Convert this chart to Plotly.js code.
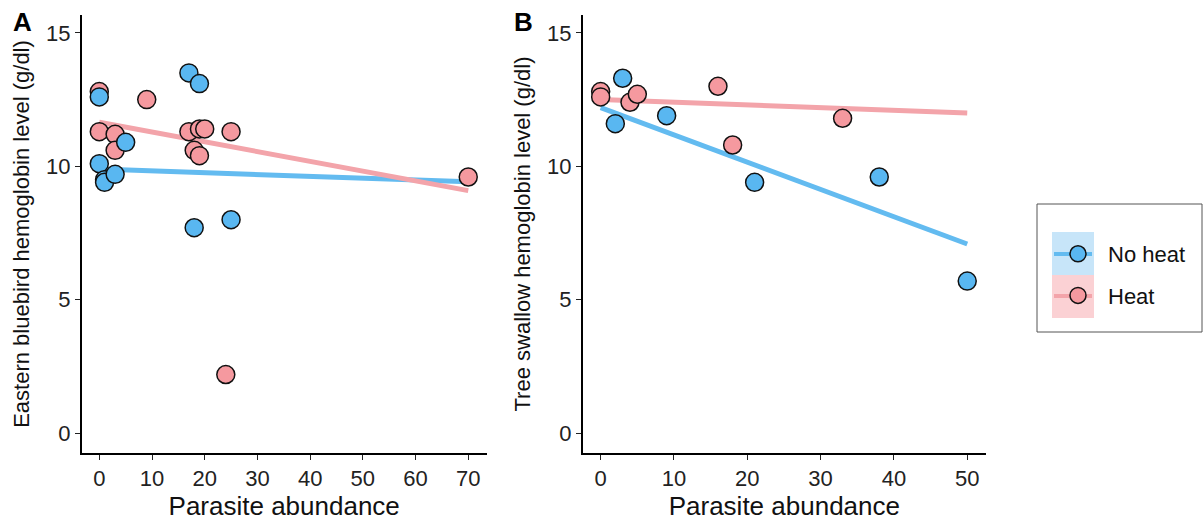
<!DOCTYPE html>
<html>
<head>
<meta charset="utf-8">
<script src="https://cdn.plot.ly/plotly-3.0.1.min.js"></script>
<style>html,body{margin:0;padding:0;background:#fff;}#chart{width:1204px;height:525px;}</style>
</head>
<body>
<div id="chart"></div>
<script>
// ---- Panel A: Eastern bluebird ----
const bluebirdNoHeatX = [0, 0, 1, 1, 3, 5, 17, 19, 18, 25];
const bluebirdNoHeatY = [12.6, 10.1, 9.5, 9.4, 9.7, 10.9, 13.5, 13.1, 7.7, 8.0];
const bluebirdHeatX = [0, 9, 0, 3, 3, 17, 19, 20, 25, 18, 19, 24, 70];
const bluebirdHeatY = [12.8, 12.5, 11.3, 11.2, 10.6, 11.3, 11.4, 11.4, 11.3, 10.6, 10.4, 2.2, 9.6];
const bluebirdFitX = [0, 70];
const bluebirdFitNoHeat = [9.9, 9.42];
const bluebirdFitHeat = [11.65, 9.09];

// ---- Panel B: Tree swallow ----
const swallowNoHeatX = [3, 2, 9, 21, 38, 50];
const swallowNoHeatY = [13.3, 11.6, 11.9, 9.4, 9.6, 5.7];
const swallowHeatX = [0, 0, 4, 5, 16, 18, 33];
const swallowHeatY = [12.8, 12.6, 12.4, 12.7, 13.0, 10.8, 11.8];
const swallowFitX = [0, 50];
const swallowFitNoHeat = [12.2, 7.09];
const swallowFitHeat = [12.5, 12.0];

const groupNames = ["No heat", "Heat"];
const yTicks = [0, 5, 10, 15];
const xTicksA = [0, 10, 20, 30, 40, 50, 60, 70];
const xTicksB = [0, 10, 20, 30, 40, 50];

const BLUE = "#59B7F1", PINK = "#F5999F";
const BLUE_LINE = "#63BBF0", PINK_LINE = "#F3A4AA";
const FONT = "Liberation Sans, Arial, sans-serif";
const W = 1204, H = 525;
const px = v => v / W, py = v => 1 - v / H;

function pts(x, y, color, xa, ya, name, show) {
  return {type: "scatter", mode: "markers", x: x, y: y, xaxis: xa, yaxis: ya,
    name: name, legendgroup: name, showlegend: show, legendrank: name === "No heat" ? 1 : 2,
    marker: {size: 18, color: color, line: {color: "#111", width: 1.5}},
    hoverinfo: "x+y"};
}
function fit(x, y, color, xa, ya, name) {
  return {type: "scatter", mode: "lines", x: x, y: y, xaxis: xa, yaxis: ya,
    name: name, legendgroup: name, showlegend: false,
    line: {color: color, width: 5}, hoverinfo: "skip"};
}

const data = [
  fit(bluebirdFitX, bluebirdFitNoHeat, BLUE_LINE, "x", "y", groupNames[0]),
  fit(bluebirdFitX, bluebirdFitHeat, PINK_LINE, "x", "y", groupNames[1]),
  fit(swallowFitX, swallowFitNoHeat, BLUE_LINE, "x2", "y2", groupNames[0]),
  fit(swallowFitX, swallowFitHeat, PINK_LINE, "x2", "y2", groupNames[1]),
  pts(bluebirdHeatX, bluebirdHeatY, PINK, "x", "y", groupNames[1], true),
  pts(swallowHeatX, swallowHeatY, PINK, "x2", "y2", groupNames[1], false),
  pts(bluebirdNoHeatX, bluebirdNoHeatY, BLUE, "x", "y", groupNames[0], true),
  pts(swallowNoHeatX, swallowNoHeatY, BLUE, "x2", "y2", groupNames[0], false)
];

const axisCommon = {
  showgrid: false, zeroline: false, showline: true, linecolor: "#000", linewidth: 1.6,
  ticks: "outside", ticklen: 5, tickwidth: 1.3, tickcolor: "#222",
  tickfont: {family: FONT, size: 22, color: "#222"}, tickmode: "array"
};
const xTitle = {text: "Parasite abundance", font: {family: FONT, size: 26, color: "#111"}, standoff: 6};

const layout = {
  width: W, height: H, margin: {l: 0, r: 0, t: 0, b: 0},
  paper_bgcolor: "#fff", plot_bgcolor: "#fff",
  showlegend: true,
  xaxis: Object.assign({}, axisCommon, {domain: [px(81.7), px(486.7)], range: [-3.34, 73.5],
    tickvals: xTicksA, ticktext: xTicksA.map(String), title: xTitle, anchor: "y"}),
  yaxis: Object.assign({}, axisCommon, {domain: [py(453), py(15)], range: [-0.74, 15.67],
    tickvals: yTicks, ticktext: yTicks.map(String), anchor: "x",
    title: {text: "Eastern bluebird hemoglobin level (g/dl)", font: {family: FONT, size: 22, color: "#111"}, standoff: 10}}),
  xaxis2: Object.assign({}, axisCommon, {domain: [px(582.7), px(986)], range: [-2.45, 52.56],
    tickvals: xTicksB, ticktext: xTicksB.map(String), title: xTitle, anchor: "y2"}),
  yaxis2: Object.assign({}, axisCommon, {domain: [py(453), py(15)], range: [-0.74, 15.67],
    tickvals: yTicks, ticktext: yTicks.map(String), anchor: "x2",
    title: {text: "Tree swallow hemoglobin level (g/dl)", font: {family: FONT, size: 22, color: "#111"}, standoff: 10}}),
  legend: {x: px(1048), y: py(233), xanchor: "left", yanchor: "top", bgcolor: "rgba(0,0,0,0)",
    borderwidth: 0, font: {family: FONT, size: 22, color: "#111"}, tracegroupgap: 10, itemwidth: 50,
    traceorder: "grouped"},
  annotations: [
    {text: "<b>A</b>", xref: "paper", yref: "paper", x: px(22), y: py(22), xanchor: "center", yanchor: "middle",
      showarrow: false, font: {family: FONT, size: 26, color: "#000"}},
    {text: "<b>B</b>", xref: "paper", yref: "paper", x: px(523), y: py(22), xanchor: "center", yanchor: "middle",
      showarrow: false, font: {family: FONT, size: 26, color: "#000"}}
  ],
  shapes: [
    {type: "rect", xref: "paper", yref: "paper", x0: px(1037), x1: px(1202), y0: py(332), y1: py(204),
      line: {color: "#555", width: 1}, fillcolor: "rgba(0,0,0,0)", layer: "below"},
    {type: "rect", xref: "paper", yref: "paper", x0: px(1052), x1: px(1094), y0: py(275), y1: py(232),
      line: {width: 0}, fillcolor: "#C7E5F9", layer: "below"},
    {type: "rect", xref: "paper", yref: "paper", x0: px(1052), x1: px(1094), y0: py(318), y1: py(275),
      line: {width: 0}, fillcolor: "#FBD1D4", layer: "below"},
    {type: "line", xref: "paper", yref: "paper", x0: px(1054), x1: px(1092), y0: py(254), y1: py(254),
      line: {color: BLUE_LINE, width: 4}, layer: "below"},
    {type: "line", xref: "paper", yref: "paper", x0: px(1054), x1: px(1092), y0: py(296), y1: py(296),
      line: {color: PINK_LINE, width: 4}, layer: "below"}
  ]
};

Plotly.newPlot("chart", data, layout, {displayModeBar: false, responsive: false});
</script>
</body>
</html>
